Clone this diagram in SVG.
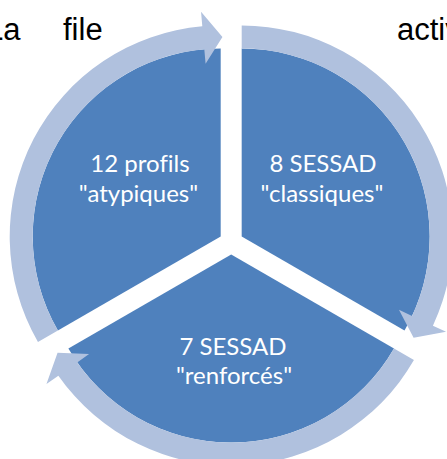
<svg xmlns="http://www.w3.org/2000/svg" width="447" height="459" viewBox="0 0 447 459">
<style>
.sector{fill:#4F81BD;}
.arrow{fill:#B0C1DE;}
.lbl{font-family:Lato,"Open Sans","Liberation Sans",sans-serif;font-size:24px;fill:#FFFFFF;text-anchor:middle;font-variant-ligatures:none;font-feature-settings:"liga" 0;}
.hdr{font-family:"Liberation Sans",Arial,sans-serif;font-size:31px;fill:#000000;}
</style>
<rect width="447" height="459" fill="#FFFFFF"/>
<g id="header">
<text class="hdr" x="-14" y="40">La</text>
<text class="hdr" x="63" y="40">file</text>
<text class="hdr" x="397" y="40">activ</text>
</g>
<g id="node-atypiques">
<path class="sector" d="M220.7 236.5 L57.89 330.5 A188 188 0 0 1 220.7 48.5 Z"/>
<text class="lbl" x="140" y="172">12 profils</text>
<text class="lbl" x="138.5" y="202">"atypiques"</text>
</g>
<g id="node-classiques">
<path class="sector" d="M241.7 236.5 L241.7 48.5 A188 188 0 0 1 404.51 330.5 Z"/>
<text class="lbl" x="323" y="172">8 SESSAD</text>
<text class="lbl" x="322" y="202">"classiques"</text>
</g>
<g id="node-renforces">
<path class="sector" d="M231.2 254.6 L394.01 348.6 A188 188 0 0 1 68.39 348.6 Z"/>
<text class="lbl" x="233" y="355">7 SESSAD</text>
<text class="lbl" x="234" y="383.5">"renforcés"</text>
</g>
<g id="connectors">
<path class="arrow" d="M241.7 25.5 A211 211 0 0 1 432.93 325.67 L446.07 331.8 L413.6 337.75 L398.94 309.82 L412.09 315.95 A188 188 0 0 0 241.7 48.5 Z"/>
<path class="arrow" d="M413.93 360.1 A211 211 0 0 1 58.36 375.63 L46.48 383.94 L57.56 352.85 L89.08 354.11 L77.2 362.44 A188 188 0 0 0 394.01 348.6 Z"/>
<path class="arrow" d="M37.97 342 A211 211 0 0 1 202.31 26.31 L201.05 11.86 L222.44 37 L205.58 63.67 L204.31 49.21 A188 188 0 0 0 57.89 330.5 Z"/>
</g>
</svg>
